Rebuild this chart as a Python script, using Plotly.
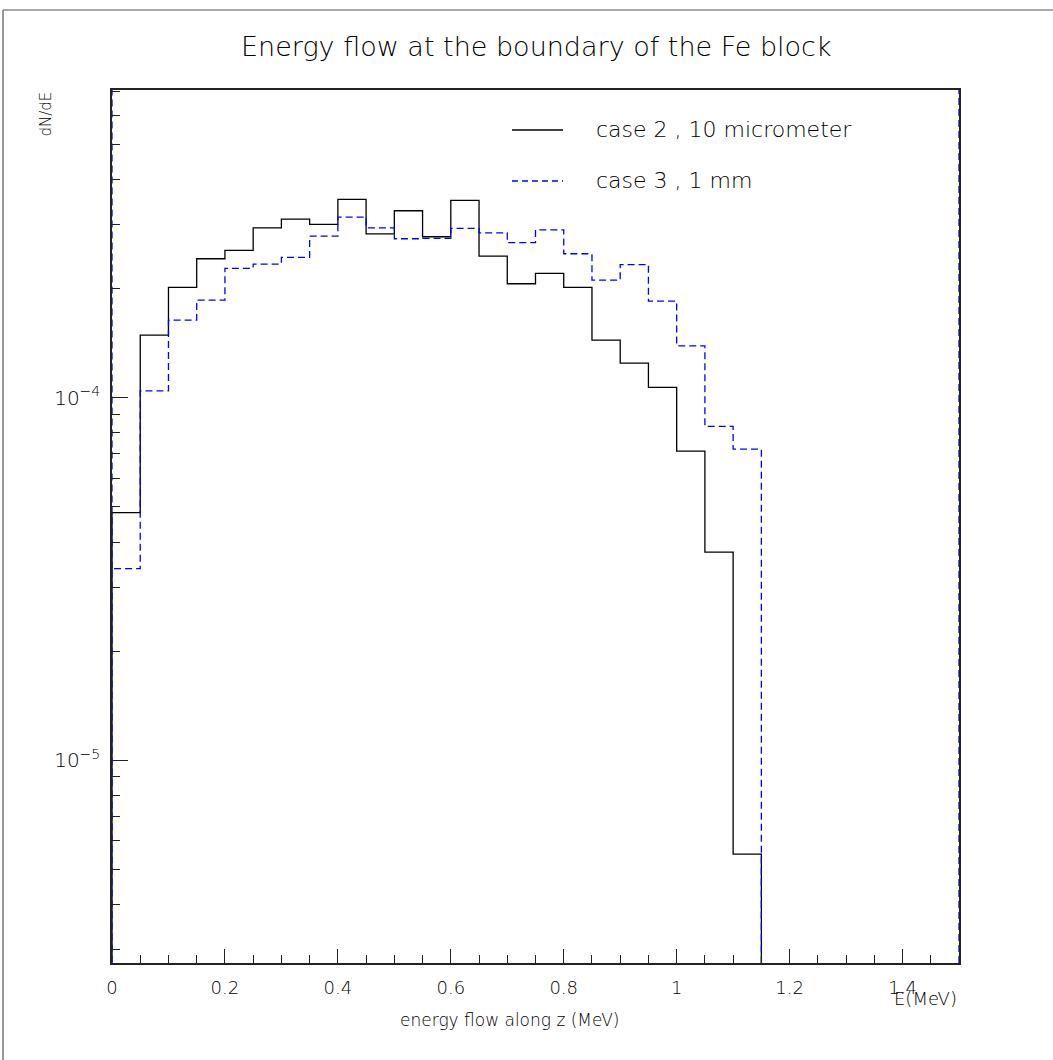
import plotly.graph_objects as go

# ---- data ----
bin_width = 0.05
bin_edges = [round(i * bin_width, 2) for i in range(31)]  # 0 .. 1.5

case2_label = "case 2 , 10 micrometer"
case2_values = [4.82e-5, 1.489e-4, 2.017e-4, 2.419e-4, 2.552e-4, 2.945e-4, 3.113e-4,
                3.010e-4, 3.528e-4, 2.835e-4, 3.282e-4, 2.782e-4, 3.506e-4, 2.460e-4,
                2.064e-4, 2.205e-4, 2.017e-4, 1.443e-4, 1.246e-4, 1.068e-4, 7.13e-5,
                3.75e-5, 5.51e-6, 0, 0, 0, 0, 0, 0, 0]

case3_label = "case 3 , 1 mm"
case3_values = [3.38e-5, 1.045e-4, 1.639e-4, 1.861e-4, 2.276e-4, 2.339e-4, 2.440e-4,
                2.794e-4, 3.153e-4, 2.945e-4, 2.747e-4, 2.754e-4, 2.934e-4, 2.853e-4,
                2.679e-4, 2.908e-4, 2.497e-4, 2.113e-4, 2.332e-4, 1.849e-4, 1.391e-4,
                8.34e-5, 7.22e-5, 0, 0, 0, 0, 0, 0, 0]

x_tick_vals = [0, 0.2, 0.4, 0.6, 0.8, 1.0, 1.2, 1.4]
x_tick_text = ["0", "0.2", "0.4", "0.6", "0.8", "1", "1.2", "1.4"]
y_tick_vals = [1e-5, 1e-4]
y_tick_text = ["10<sup>\u22125</sup>", "10<sup>\u22124</sup>"]

title_text = "Energy flow at the boundary of the Fe block"
x_title = "energy flow along z (MeV)"
x_unit = "E(MeV)"
y_title = "dN/dE"

# ---- layout constants ----
W, H = 1053, 1060
PL, PT = 112, 90                  # plot-area top-left in the page
PW, PH = 847, 873                 # plot-area size
L, T = PL, PT
R, B = W - L - PW, H - T - PH
Y_LOG_RANGE = [-5.5595, -3.1507]
FLOOR = 10 ** (Y_LOG_RANGE[0] - 1)  # empty bins drawn below the visible range
FONT = "DejaVu Sans ExtraLight, DejaVu Sans Light, DejaVu Sans"
TXT = "#000000"
AX = "#222222"


def step_xy(values):
    ys = [v if v > 0 else FLOOR for v in values]
    xs = [bin_edges[0]] + bin_edges
    yy = [FLOOR] + ys + [ys[-1]]
    return xs, yy


fig = go.Figure()
x2, y2 = step_xy(case2_values)
fig.add_trace(go.Scatter(x=x2, y=y2, mode="lines", line_shape="hv", name=case2_label,
                         line=dict(color="black", width=1.3), showlegend=False))
x3, y3 = step_xy(case3_values)
fig.add_trace(go.Scatter(x=x3, y=y3, mode="lines", line_shape="hv", name=case3_label,
                         line=dict(color="#0000ff", width=1.3, dash="7px,4px"),
                         showlegend=False))


def px(xpix):
    return (xpix - PL) / PW


def py(ypix):
    return (PT + PH - ypix) / PH


shapes = []
# blue histogram edges drawn up to the frame (as in the reference)
shapes.append(dict(type="line", xref="x", yref="paper", x0=1.5, x1=1.5, y0=0, y1=1,
                   line=dict(color="#0000ff", width=1.3, dash="7px,4px")))
shapes.append(dict(type="line", xref="x", yref="y", x0=0, x1=0,
                   y0=case3_values[0], y1=10 ** Y_LOG_RANGE[1],
                   line=dict(color="#0000ff", width=1.3, dash="7px,4px")))
# legend samples
shapes.append(dict(type="line", xref="paper", yref="paper", x0=px(512), x1=px(563),
                   y0=py(130), y1=py(130), line=dict(color="black", width=1.3)))
shapes.append(dict(type="line", xref="paper", yref="paper", x0=px(512), x1=px(563),
                   y0=py(181), y1=py(181),
                   line=dict(color="#0000ff", width=1.3, dash="6px,4px")))
# outer page border (top and left)
shapes.append(dict(type="line", xref="paper", yref="paper", x0=px(3), x1=px(1070),
                   y0=py(10), y1=py(10), line=dict(color="#555555", width=1.2)))
shapes.append(dict(type="line", xref="paper", yref="paper", x0=px(3), x1=px(3),
                   y0=py(10), y1=py(1080), line=dict(color="#555555", width=1.2)))

annotations = [
    dict(text=title_text, xref="paper", yref="paper", x=px(536), y=py(47),
         xanchor="center", yanchor="middle", showarrow=False,
         font=dict(family=FONT, size=27, color=TXT)),
    dict(text=case2_label, xref="paper", yref="paper", x=px(594), y=py(130),
         xanchor="left", yanchor="middle", showarrow=False,
         font=dict(family=FONT, size=22, color=TXT)),
    dict(text=case3_label, xref="paper", yref="paper", x=px(594), y=py(181),
         xanchor="left", yanchor="middle", showarrow=False,
         font=dict(family=FONT, size=22, color=TXT)),
    dict(text=x_title, xref="paper", yref="paper", x=px(509), y=py(1020),
         xanchor="center", yanchor="middle", showarrow=False,
         font=dict(family=FONT, size=17, color=TXT)),
    dict(text=x_unit, xref="paper", yref="paper", x=px(959), y=py(998),
         xanchor="right", yanchor="middle", showarrow=False,
         font=dict(family=FONT, size=18, color=TXT)),
    dict(text=y_title, xref="paper", yref="paper", x=px(45), y=py(90),
         xanchor="center", yanchor="top", textangle=-90, showarrow=False,
         font=dict(family=FONT, size=15, color=TXT)),
]

minor_y = [k * 10 ** e for e in (-6, -5, -4) for k in range(2, 10)]

fig.update_layout(
    width=W, height=H,
    margin=dict(l=L, r=R, t=T, b=B, pad=0),
    paper_bgcolor="white", plot_bgcolor="white",
    shapes=shapes, annotations=annotations,
    showlegend=False,
    xaxis=dict(range=[0, 1.5], showgrid=False, zeroline=False,
               showline=True, mirror=True, linecolor=AX, linewidth=1.5,
               tickmode="array", tickvals=x_tick_vals, ticktext=x_tick_text,
               ticks="inside", ticklen=14, tickwidth=1.2, tickcolor=AX,
               ticklabelstandoff=8,
               tickfont=dict(family=FONT, size=18, color=TXT),
               minor=dict(dtick=0.05, tick0=0, ticks="inside", ticklen=8,
                          tickwidth=1.2, tickcolor=AX, showgrid=False)),
    yaxis=dict(type="log", range=Y_LOG_RANGE, showgrid=False, zeroline=False,
               showline=True, mirror=True, linecolor=AX, linewidth=1.5,
               tickmode="array", tickvals=y_tick_vals, ticktext=y_tick_text,
               ticks="inside", ticklen=16, tickwidth=1.2, tickcolor=AX,
               ticklabelstandoff=6,
               tickfont=dict(family=FONT, size=20, color=TXT),
               minor=dict(tickmode="array", tickvals=minor_y, ticks="inside",
                          ticklen=8, tickwidth=1.2, tickcolor=AX,
                          showgrid=False)),
)

fig.write_html("out.html", config={"displayModeBar": False},
               post_script="document.body.style.margin='0';")
